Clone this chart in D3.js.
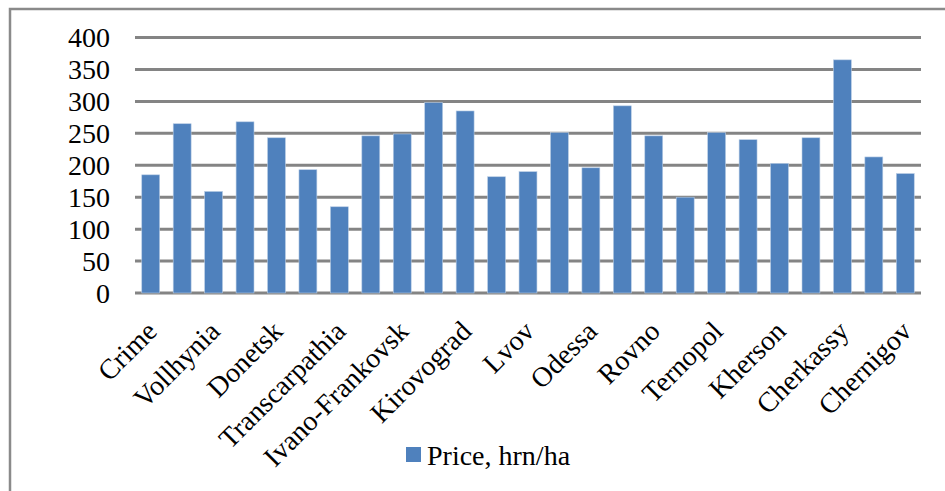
<!DOCTYPE html>
<html>
<head>
<meta charset="utf-8">
<script src="https://cdn.jsdelivr.net/npm/d3@7"></script>
<style>
  body { margin: 0; background: #fff; }
  svg { display: block; font-family: "Liberation Serif", "Times New Roman", serif; }
</style>
</head>
<body>
<svg id="chart" width="945" height="491"></svg>
<script>
const regions = ['Crime', 'Vinnitsa', 'Vollhynia', 'Dnepropetrovsk', 'Donetsk', 'Zhitomir',
    'Transcarpathia', 'Zaporozhye', 'Ivano-Frankovsk', 'Kiev', 'Kirovograd', 'Lugansk',
    'Lvov', 'Nikolaev', 'Odessa', 'Poltava', 'Rovno', 'Sumy', 'Ternopol', 'Kharkov',
    'Kherson', 'Khmelnitsky', 'Cherkassy', 'Chernovtsy', 'Chernigov'];
const prices = [185, 265, 159, 268, 243, 193, 135, 246, 249, 298, 285, 182, 190,
    251, 196, 293, 246, 150, 251, 240, 203, 243, 365, 213, 187];
const yTicks = [0, 50, 100, 150, 200, 250, 300, 350, 400];
const seriesName = 'Price, hrn/ha';

const svg = d3.select('#chart');
const plotLeft = 135, plotRight = 921, plotTop = 37.5, plotBottom = 293;

// outer chart frame (runs off the right and bottom of the picture)
svg.append('rect')
    .attr('x', 10).attr('y', 9)
    .attr('width', 1000).attr('height', 600)
    .attr('fill', 'none')
    .attr('stroke', '#8a8a8a')
    .attr('stroke-width', 2.5);

const x = d3.scaleBand()
    .domain(regions)
    .range([plotLeft, plotRight])
    .paddingInner(0.43)
    .paddingOuter(0.215);

const y = d3.scaleLinear()
    .domain([0, 400])
    .range([plotBottom, plotTop]);

// gridlines
svg.append('g')
    .selectAll('line')
    .data(yTicks)
    .join('line')
    .attr('x1', plotLeft).attr('x2', plotRight)
    .attr('y1', d => y(d)).attr('y2', d => y(d))
    .attr('stroke', '#848484')
    .attr('stroke-width', 3);

// y labels
svg.append('g')
    .selectAll('text')
    .data(yTicks)
    .join('text')
    .attr('x', 110)
    .attr('y', d => y(d))
    .attr('dy', '0.34em')
    .attr('text-anchor', 'end')
    .attr('font-size', '28px')
    .attr('fill', '#000')
    .text(d => d);

// bars
svg.append('g')
    .selectAll('rect')
    .data(prices)
    .join('rect')
    .attr('x', (d, i) => x(regions[i]))
    .attr('y', d => y(d))
    .attr('width', x.bandwidth())
    .attr('height', d => y(0) - y(d))
    .attr('fill', '#4f81bd')
    .attr('stroke', '#b9cde5')
    .attr('stroke-width', 0.6);

// category labels, every other one like the original
svg.append('g')
    .selectAll('text')
    .data(regions.filter((d, i) => i % 2 === 0))
    .join('text')
    .attr('transform', d => `translate(${x(d) + x.bandwidth() / 2 + 1}, 326) rotate(-45)`)
    .attr('dy', '0.35em')
    .attr('text-anchor', 'end')
    .attr('font-size', '28px')
    .attr('fill', '#000')
    .text(d => d);

// legend
const legend = svg.append('g').attr('transform', 'translate(406, 447)');
legend.append('rect')
    .attr('width', 15).attr('height', 15)
    .attr('fill', '#4f81bd');
legend.append('text')
    .attr('x', 21).attr('y', 18)
    .attr('font-size', '28px')
    .attr('fill', '#000')
    .text(seriesName);
</script>
</body>
</html>
